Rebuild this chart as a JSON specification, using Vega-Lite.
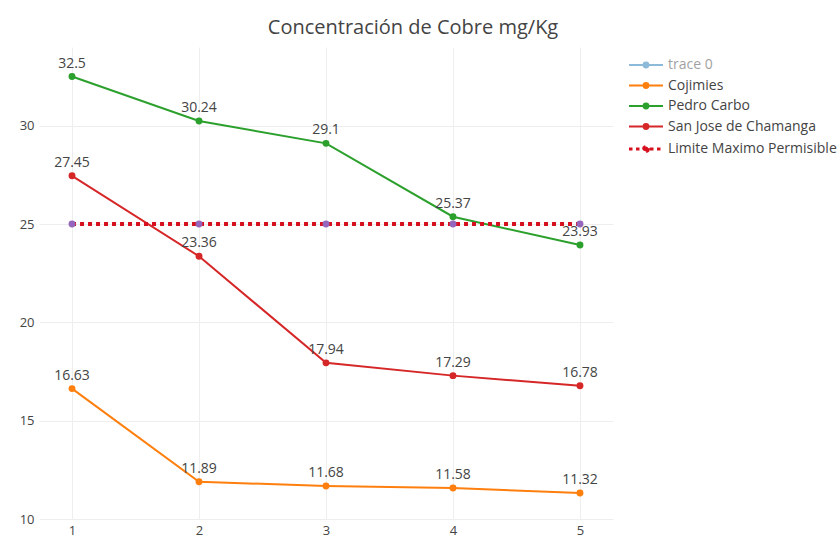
{
  "$schema": "https://vega.github.io/schema/vega-lite/v6.json",
  "width": 574,
  "height": 472,
  "autosize": {"type": "none"},
  "padding": {"left": 39, "top": 47, "right": 225, "bottom": 19},
  "background": "white",
  "title": {
    "text": "Concentración de Cobre mg/Kg",
    "font": "Open Sans",
    "fontSize": 20,
    "fontWeight": "normal",
    "color": "#444",
    "anchor": "middle",
    "frame": "group",
    "dx": 87,
    "offset": 9
  },
  "config": {
    "view": {"stroke": null},
    "axis": {
      "domain": false,
      "ticks": false,
      "grid": true,
      "gridColor": "#eeeeee",
      "gridWidth": 1,
      "labelFont": "Open Sans",
      "labelFontSize": 13,
      "labelColor": "#444",
      "labelPadding": 5,
      "title": null
    }
  },
  "data": {
    "values": [
      {"x": 1, "series": "Cojimies", "value": 16.63},
      {"x": 2, "series": "Cojimies", "value": 11.89},
      {"x": 3, "series": "Cojimies", "value": 11.68},
      {"x": 4, "series": "Cojimies", "value": 11.58},
      {"x": 5, "series": "Cojimies", "value": 11.32},
      {"x": 1, "series": "Pedro Carbo", "value": 32.5},
      {"x": 2, "series": "Pedro Carbo", "value": 30.24},
      {"x": 3, "series": "Pedro Carbo", "value": 29.1},
      {"x": 4, "series": "Pedro Carbo", "value": 25.37},
      {"x": 5, "series": "Pedro Carbo", "value": 23.93},
      {"x": 1, "series": "San Jose de Chamanga", "value": 27.45},
      {"x": 2, "series": "San Jose de Chamanga", "value": 23.36},
      {"x": 3, "series": "San Jose de Chamanga", "value": 17.94},
      {"x": 4, "series": "San Jose de Chamanga", "value": 17.29},
      {"x": 5, "series": "San Jose de Chamanga", "value": 16.78},
      {"x": 1, "series": "Limite Maximo Permisible", "value": 25},
      {"x": 2, "series": "Limite Maximo Permisible", "value": 25},
      {"x": 3, "series": "Limite Maximo Permisible", "value": 25},
      {"x": 4, "series": "Limite Maximo Permisible", "value": 25},
      {"x": 5, "series": "Limite Maximo Permisible", "value": 25}
    ]
  },
  "encoding": {
    "x": {
      "field": "x",
      "type": "quantitative",
      "scale": {"domain": [0.74, 5.26], "nice": false, "zero": false},
      "axis": {"values": [1, 2, 3, 4, 5], "format": "d", "labelFlush": false}
    },
    "y": {
      "field": "value",
      "type": "quantitative",
      "scale": {"domain": [10, 34], "nice": false, "zero": false},
      "axis": {"values": [10, 15, 20, 25, 30], "format": "d"}
    }
  },
  "layer": [
    {
      "transform": [{"filter": "datum.series !== 'Limite Maximo Permisible'"}],
      "mark": {"type": "line", "strokeWidth": 2},
      "encoding": {
        "color": {
          "field": "series",
          "type": "nominal",
          "scale": {
            "domain": ["trace 0", "Cojimies", "Pedro Carbo", "San Jose de Chamanga", "Limite Maximo Permisible"],
            "range": ["#1f77b4", "#ff7f0e", "#2ca02c", "#d62728", "#d7101f"]
          },
          "legend": {
            "title": null,
            "orient": "none",
            "legendX": 600,
            "legendY": 11,
            "symbolType": "M-0.85,0L0.85,0M0.12,0A0.12,0.12,0,1,1,-0.12,0A0.12,0.12,0,1,1,0.12,0Z",
            "symbolSize": 1600,
            "symbolStrokeWidth": 2,
            "labelFont": "Open Sans",
            "labelFontSize": 14,
            "labelColor": "#444",
            "labelOffset": 15,
            "rowPadding": 6.5,
            "labelLimit": 300,
            "encode": {
              "symbols": {
                "update": {
                  "stroke": {"scale": "color", "field": "value"},
                  "fill": {"signal": "datum.value === 'Limite Maximo Permisible' ? '#9467bd' : scale('color', datum.value)"},
                  "strokeWidth": {"signal": "datum.value === 'Limite Maximo Permisible' ? 3 : 2"},
                  "strokeDash": {"signal": "datum.value === 'Limite Maximo Permisible' ? [3.5, 3.5] : []"},
                  "opacity": {"signal": "datum.value === 'trace 0' ? 0.5 : 1"}
                }
              },
              "labels": {
                "update": {
                  "opacity": {"signal": "datum.value === 'trace 0' ? 0.5 : 1"}
                }
              }
            }
          }
        }
      }
    },
    {
      "transform": [{"filter": "datum.series !== 'Limite Maximo Permisible'"}],
      "mark": {"type": "point", "filled": true, "size": 48, "opacity": 1},
      "encoding": {
        "color": {"field": "series", "type": "nominal"}
      }
    },
    {
      "transform": [{"filter": "datum.series === 'Limite Maximo Permisible'"}],
      "mark": {"type": "line", "strokeWidth": 4, "strokeDash": [4, 4]},
      "encoding": {
        "color": {"field": "series", "type": "nominal"}
      }
    },
    {
      "transform": [{"filter": "datum.series === 'Limite Maximo Permisible'"}],
      "mark": {"type": "point", "filled": true, "size": 48, "opacity": 1, "color": "#9467bd"},
      "encoding": {}
    },
    {
      "transform": [{"filter": "datum.series !== 'Limite Maximo Permisible'"}],
      "mark": {"type": "text", "baseline": "bottom", "dy": -6, "font": "Open Sans", "fontSize": 14, "color": "#444"},
      "encoding": {
        "text": {"field": "value", "type": "quantitative", "format": "~g"}
      }
    }
  ]
}
